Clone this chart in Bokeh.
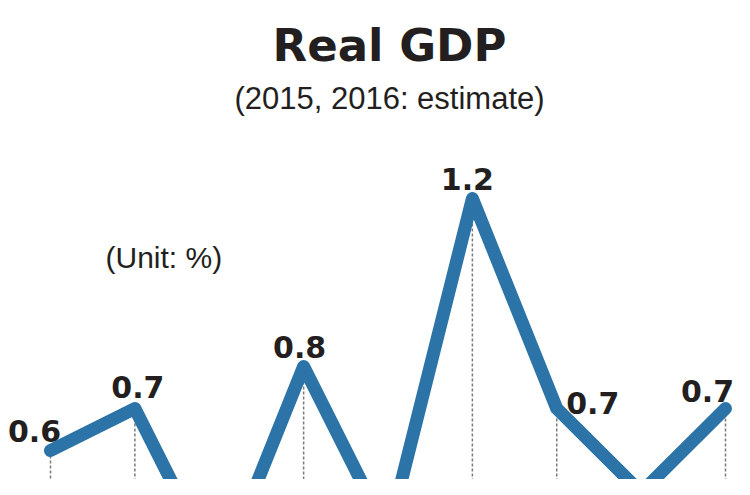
from bokeh.plotting import figure
from bokeh.models import ColumnDataSource, Label, Range1d
from bokeh.core.properties import value
from bokeh.embed import file_html
from bokeh.resources import INLINE

# ---- data ----
periods = ["2014 Q3", "2014 Q4", "2015 Q1", "2015 Q2", "2015 Q3",
           "2015 Q4", "2016 Q1", "2016 Q2", "2016 Q3"]
growth = [0.6, 0.7, 0.3, 0.8, 0.4, 1.2, 0.7, 0.5, 0.7]
shown_labels = [True, True, False, True, False, True, True, False, True]

title_text = "Real GDP"
subtitle_text = "(2015, 2016: estimate)"
unit_text = "(Unit: %)"

# ---- styling / label placement (screen px) ----
label_dx = [-16, 3, 0, -4, 0, -5, 36, 0, -18]
label_dy = [-20, -22, 0, -20, 0, -20, -6, 0, -18]

LINE_COLOR = "#2c73a7"
TEXT_COLOR = "#231f20"

W, H = 734, 479
y_bottom = 0.7 - (H - 408) / 420
y_top = 0.7 + 408 / 420
x_left = -50 / 84.375
x_right = (W - 50) / 84.375

xs = list(range(len(growth)))

p = figure(width=W, height=H, output_backend="svg", toolbar_location=None,
           x_range=Range1d(x_left, x_right), y_range=Range1d(y_bottom, y_top),
           min_border=0, min_border_left=0, min_border_right=0,
           min_border_top=0, min_border_bottom=0)
p.xaxis.visible = False
p.yaxis.visible = False
p.grid.visible = False
p.outline_line_color = None
p.background_fill_color = "white"
p.border_fill_color = "white"

# dashed drop lines
p.segment(x0=xs, y0=growth, x1=xs, y1=[y_bottom - 0.1] * len(xs),
          line_color="#7a7a7a", line_width=1.5, line_dash="3 2")

# main line
p.line(xs, growth, line_color=LINE_COLOR, line_width=13,
       line_join="round", line_cap="round")

# value labels
lx = [x for x, s in zip(xs, shown_labels) if s]
ly = [g for g, s in zip(growth, shown_labels) if s]
lt = [f"{g:.1f}" for g, s in zip(growth, shown_labels) if s]
ldx = [d for d, s in zip(label_dx, shown_labels) if s]
ldy = [d for d, s in zip(label_dy, shown_labels) if s]
src = ColumnDataSource(dict(x=lx, y=ly, t=lt, dx=ldx, dy=ldy))
p.text(x="x", y="y", text="t", x_offset="dx", y_offset="dy", source=src,
       text_font=value("DejaVu Sans"), text_font_style="bold",
       text_font_size="30px", text_color=TEXT_COLOR,
       text_align="center", text_baseline="alphabetic")

# titles
p.add_layout(Label(x=389, y=H - 45, x_units="screen", y_units="screen",
                   text=title_text, text_font="DejaVu Sans",
                   text_font_style="bold", text_font_size="45px",
                   text_color=TEXT_COLOR, text_align="center",
                   text_baseline="alphabetic"))
p.add_layout(Label(x=389, y=H - 98, x_units="screen", y_units="screen",
                   text=subtitle_text, text_font="Liberation Sans",
                   text_font_size="31px", text_color=TEXT_COLOR,
                   text_align="center", text_baseline="alphabetic"))
p.add_layout(Label(x=105, y=H - 257, x_units="screen", y_units="screen",
                   text=unit_text, text_font="Liberation Sans",
                   text_font_size="30px", text_color=TEXT_COLOR,
                   text_align="left", text_baseline="alphabetic"))

open("out.html", "w").write(file_html(p, INLINE))
